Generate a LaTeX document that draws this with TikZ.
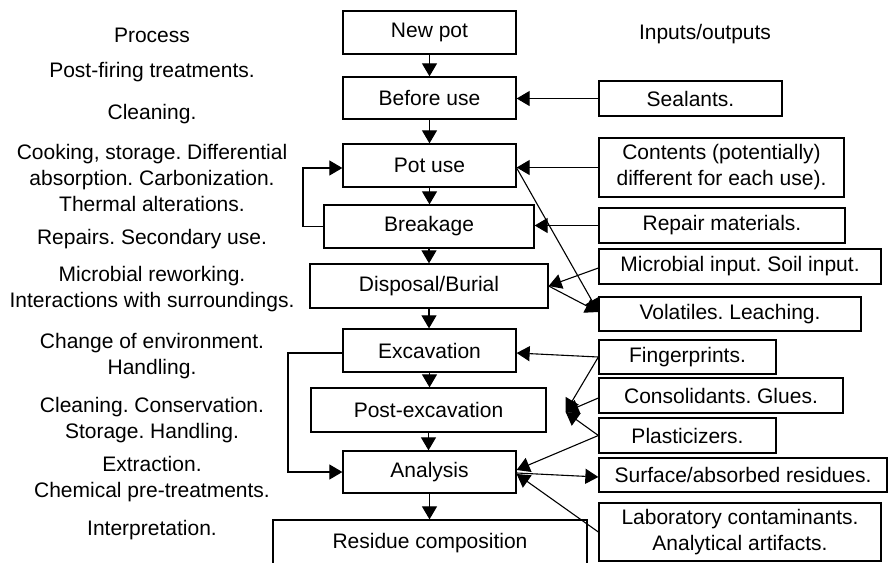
\documentclass[tikz,border=0pt]{standalone}
\usepackage{fontspec}
\setmainfont{Liberation Sans}
\usetikzlibrary{arrows.meta}
\begin{document}
\frenchspacing
\begin{tikzpicture}[x=1pt,y=-1pt,
  every node/.style={font=\fontsize{21}{26}\selectfont},
  proc/.style={draw,line width=1.3pt,inner sep=0pt,minimum height=43pt},
  io/.style={draw,line width=1.3pt,inner sep=0pt,minimum height=35pt},
  lbl/.style={align=center,inner sep=0pt},
  arr/.style={line width=1.1pt,-{Triangle[length=13pt,width=15pt]}}]
\useasboundingbox (0,0) rectangle (888,562);
\clip (0,0) rectangle (888,562);

% process boxes
\node[proc,minimum width=173pt] (newpot) at (429.5,32.5) {New pot};
\node[proc,minimum width=173pt,minimum height=42pt] (before) at (429.5,98) {Before use};
\node[proc,minimum width=173pt] (potuse) at (429.5,165.5) {Pot use};
\node[proc,minimum width=210pt] (breakage) at (429,226.5) {Breakage};
\node[proc,minimum width=238pt,minimum height=44pt] (disposal) at (429,286) {Disposal/Burial};
\node[proc,minimum width=173pt] (excav) at (429.5,350.5) {Excavation};
\node[proc,minimum width=235pt,minimum height=44pt] (postexc) at (428.5,410) {Post-excavation};
\node[proc,minimum width=173pt,minimum height=42pt] (analysis) at (429.5,472) {Analysis};
\node[proc,minimum width=314pt,minimum height=46pt] (residue) at (430,543) {Residue composition};

% inputs / outputs
\node[io,minimum width=183pt] (sealants) at (690.5,98.5) {Sealants.};
\node[io,line width=2.6pt,minimum width=245pt,minimum height=59pt,align=center] (contents) at (721.5,167.5) {Contents (potentially)\\different for each use).};
\node[io,minimum width=246pt] (repair) at (722,225.5) {Repair materials.};
\node[io,minimum width=282pt] (microbial) at (740,266.5) {Microbial input. Soil input.};
\node[io,minimum width=262pt,minimum height=34pt] (volatiles) at (730,314) {Volatiles. Leaching.};
\node[io,minimum width=177pt,minimum height=34pt] (finger) at (687.5,357) {Fingerprints.};
\node[io,minimum width=244pt] (consol) at (721,395.5) {Consolidants. Glues.};
\node[io,minimum width=177pt] (plast) at (687.5,435.5) {Plasticizers.};
\node[io,minimum width=288pt,minimum height=34pt] (surface) at (743,475) {Surface/absorbed residues.};
\node[io,minimum width=282pt,minimum height=58pt,align=center] (lab) at (740,532) {Laboratory contaminants.\\Analytical artifacts.};

% left column labels
\node[lbl] (hproc) at (152,35) {Process};
\node[lbl] (l1) at (152,72) {Post-firing treatments.};
\node[lbl] (l2) at (152,114) {Cleaning.};
\node[lbl] (l3) at (152,178) {Cooking, storage. Differential\\absorption. Carbonization.\\Thermal alterations.};
\node[lbl] (l4) at (152,239) {Repairs. Secondary use.};
\node[lbl] (l5) at (152,289.5) {Microbial reworking.\\Interactions with surroundings.};
\node[lbl] (l6) at (152,356.5) {Change of environment.\\Handling.};
\node[lbl] (l7) at (152,420) {Cleaning. Conservation.\\Storage. Handling.};
\node[lbl] (l8) at (152,479.5) {Extraction.\\Chemical pre-treatments.};
\node[lbl] (l9) at (152,530) {Interpretation.};
\node[lbl] (hio) at (705,34) {Inputs/outputs};

% main flow
\draw[arr] (newpot.south) -- (newpot.south |- before.north);
\draw[arr] (before.south) -- (before.south |- potuse.north);
\draw[arr] (potuse.south) -- (potuse.south |- breakage.north);
\draw[arr] (breakage.south) -- (breakage.south |- disposal.north);
\draw[arr] (disposal.south) -- (disposal.south |- excav.north);
\draw[arr] (excav.south) -- (excav.south |- postexc.north);
\draw[arr] (postexc.south) -- (postexc.south |- analysis.north);
\draw[arr] (analysis.south) -- (analysis.south |- residue.north);

% loops
\coordinate (lx1) at (303,0);
\coordinate (lx2) at (288,0);
\draw[arr] (breakage.west) -- (breakage.west -| lx1) |- ([yshift=-2.5pt]potuse.west);
\draw[arr] ([yshift=-2.5pt]excav.west) -- ([yshift=-2.5pt]excav.west -| lx2) |- (analysis.west);

% inputs
\draw[arr] (sealants.west) -- (sealants.west -| before.east);
\draw[arr] (contents.west) -- (contents.west -| potuse.east);
\draw[arr] (repair.west) -- (repair.west -| breakage.east);
\draw[arr] ([yshift=-1.5pt]microbial.west) -- (disposal.east);

% outputs to volatiles
\coordinate (volin) at ([yshift=2pt]volatiles.west);
\draw[arr] ([yshift=-2.5pt]potuse.east) -- (volin);
\draw[arr] (disposal.east) -- (volin);

% excavation / post-excavation / analysis
\coordinate (pxin) at ([xshift=19pt,yshift=-2pt]postexc.east);
\draw[arr] (finger.west) -- ([yshift=-2.5pt]excav.east);
\draw[arr] (finger.west) -- (pxin);
\draw[arr] ([yshift=-2.5pt]consol.west) -- (pxin);
\draw[arr] (plast.west) -- (pxin);
\draw[arr] (plast.west) -- ([yshift=2pt]analysis.east);
\draw[arr] ([yshift=-1pt]analysis.east) -- ([yshift=-2pt]surface.west);
\draw[arr] (lab.west) -- ([yshift=-2pt]analysis.east);
\end{tikzpicture}
\end{document}
